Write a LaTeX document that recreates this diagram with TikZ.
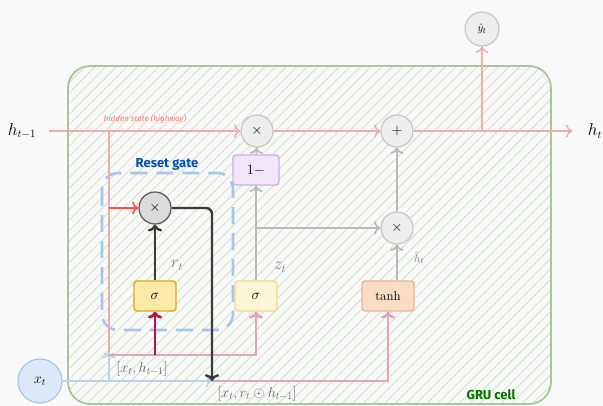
\documentclass[tikz,border=0pt]{standalone}
\usepackage{fontspec}
\usepackage{amssymb}
\usepackage{tikz}
\usetikzlibrary{arrows.meta, positioning, patterns.meta}
\newfontfamily\handfont{Fira Sans}
\definecolor{paper}{HTML}{F9F9F9}
\definecolor{cellgreen}{HTML}{A9C79B}
\definecolor{hatchgreen}{HTML}{CFE2C4}
\definecolor{highwayred}{HTML}{F2AAAA}
\definecolor{catpink}{HTML}{E3A4B9}
\definecolor{resetred}{HTML}{B5134F}
\definecolor{darkline}{HTML}{3A3A3A}
\definecolor{grayline}{HTML}{B8B8B8}
\definecolor{xblue}{HTML}{BCD3F0}
\definecolor{resetblue}{HTML}{A8C5EC}
\newcommand{\fs}[1]{\fontsize{#1}{#1}\selectfont}
\tikzset{
  opcircle/.style={circle, draw=black!22, fill=black!7, line width=1.2pt, minimum size=32pt, inner sep=0pt, font=\fs{14}},
  opdark/.style={opcircle, draw=black!65, fill=black!14},
  gatebox/.style={rectangle, rounded corners=3pt, line width=1.4pt, minimum width=42pt, minimum height=30pt, font=\fs{14}},
  highway/.style={draw=highwayred, line width=1.4pt, -{To[length=2.2mm]}},
  catline/.style={draw=catpink, line width=2.4pt, -{To[length=2.4mm]}},
  grayarr/.style={draw=grayline, line width=1.6pt, -{To[length=2.2mm]}},
  darkarr/.style={draw=darkline, line width=2.4pt, -{To[length=2.4mm]}},
  xarr/.style={draw=xblue, line width=1.6pt, -{To[length=2.2mm]}},
  lbl/.style={text=black!50, font=\fs{16}},
  catlbl/.style={text=black!60, font=\fs{14}},
}
\begin{document}
\begin{tikzpicture}[x=1pt, y=-1pt, font=\fs{16}]
\useasboundingbox[fill=paper] (0,0) rectangle (603,406);
\draw[draw=cellgreen, line width=1.8pt, rounded corners=22pt,
  pattern={Lines[angle=45, distance=7.5pt, line width=0.8pt]}, pattern color=hatchgreen]
  (68,66) rectangle (551,404);
\node[text=green!45!black, font=\handfont\bfseries\fs{13}] at (491,395) {GRU cell};

\draw[draw=resetblue, line width=2.6pt, dash pattern=on 17pt off 9pt, rounded corners=16pt]
  (102,173) rectangle (233,330);
\node[text=blue!55!cyan!70!black, font=\handfont\bfseries\fs{13}] at (167,164) {Reset gate};

\node (hprev) at (22,131) {$h_{t-1}$};
\node (hnext) at (595,131) {$h_t$};
\node[opcircle] (mulh) at (257,131) {$\times$};
\node[opcircle] (add) at (397,131) {$+$};
\node[opcircle] (mulz) at (397,228) {$\times$};
\node[opcircle, minimum size=34pt, font=\fs{11}] (yhat) at (482,29) {$\hat y_t$};
\node[opdark] (mulr) at (155,208) {$\times$};
\node[gatebox, draw={rgb,255:red,216;green,170;blue,26}, fill={rgb,255:red,251;green,233;blue,168}] (sigr) at (155,296) {$\sigma$};
\node[gatebox, draw={rgb,255:red,239;green,217;blue,142}, fill={rgb,255:red,252;green,246;blue,217}] (sigz) at (256,296) {$\sigma$};
\node[gatebox, minimum width=46pt, draw={rgb,255:red,207;green,173;blue,230}, fill={rgb,255:red,241;green,230;blue,249}] (onem) at (256,170) {$1-$};
\node[gatebox, minimum width=52pt, font=\fs{13}, draw={rgb,255:red,237;green,180;blue,142}, fill={rgb,255:red,250;green,220;blue,197}] (tanh) at (388,296) {tanh};
\node[circle, draw=resetblue, fill={rgb,255:red,220;green,231;blue,247}, line width=1.2pt, minimum size=44pt, font=\fs{14}] (xt) at (40,381) {$x_t$};

\coordinate (split) at (109,131);
\coordinate (catl) at (109,355);
\coordinate (xfork) at (109,381);
\coordinate (rcat) at (212,381);
\coordinate (yfork) at (482,131);

\node[text=highwayred!70!red, font=\handfont\itshape\fs{8}] at (145,119) {hidden state (highway)};
\node[lbl] at (177,265) {$r_t$};
\node[lbl] at (280,267) {$z_t$};
\node[lbl, font=\fs{11}, inner sep=1pt] at (419,258) {$\tilde h_t$};
\node[catlbl] at (142,369) {$[x_t, h_{t-1}]$};
\node[catlbl] at (257,394) {$[x_t, r_t \odot h_{t-1}]$};

\draw[highway, shorten <=9pt] (hprev) -- (mulh);
\draw[highway] (mulh) -- (add);
\draw[highway, shorten >=12pt] (add) -- (hnext);
\draw[highway] (yfork) -- (yhat);
\draw[highway, -{To[length=1.8mm]}, line width=1.2pt] (split) -- ([yshift=-3pt]catl);
\draw[highway, draw=red!70, line width=1.6pt] (mulr.west -| split) -- (mulr.west);

\draw[xarr, shorten <=-2pt] (xt) -- (rcat);
\draw[xarr] (xfork) -- ([yshift=3pt]catl);
\draw[catline] (catl) -| (sigz.south);
\draw[catline] (rcat) -| (tanh.south);
\draw[draw=resetred, line width=2.8pt, -{To[length=2.4mm]}] (sigr.south |- catl) -- (sigr.south);

\draw[darkarr] (sigr) -- (mulr);
\draw[darkarr, rounded corners=6pt] (mulr.east) -| (rcat);

\foreach \a/\b in {sigz/onem, onem/mulh, mulz/add} \draw[grayarr] (\a) -- (\b);
\draw[grayarr] (onem.south |- mulz) -- (mulz);
\draw[grayarr] (tanh.north -| mulz) -- (mulz);
\end{tikzpicture}
\end{document}
